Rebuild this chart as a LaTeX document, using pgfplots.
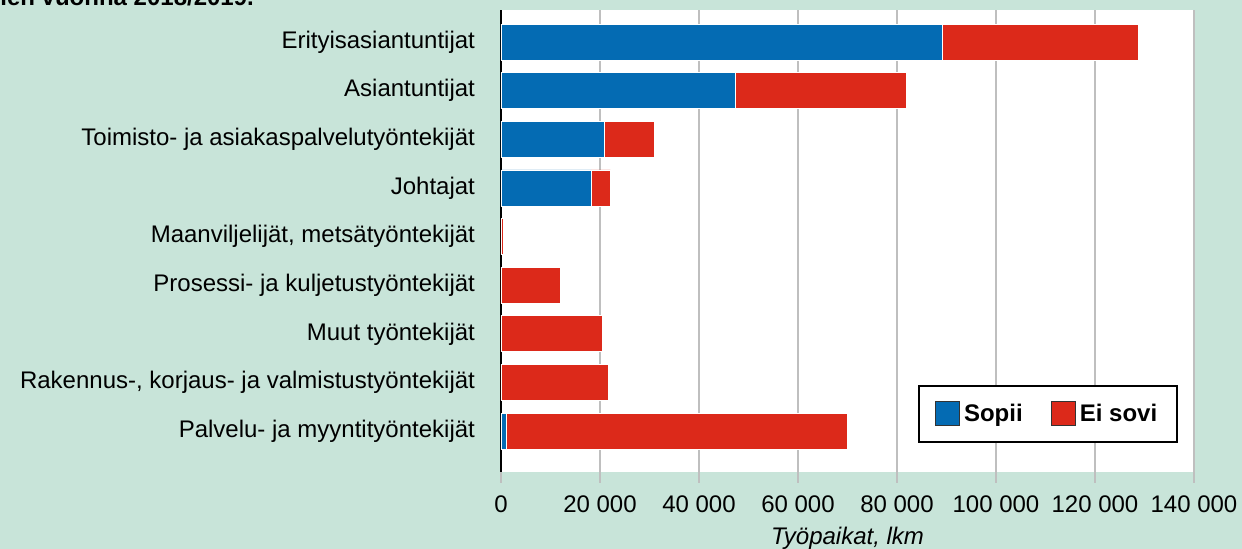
\documentclass[border=0pt]{standalone}
\usepackage{pgfplots}
\pgfplotsset{compat=1.18}
\usepackage{fontspec}
\setmainfont{Liberation Sans}
\definecolor{bgc}{RGB}{200,228,217}
\definecolor{sopii}{RGB}{4,107,179}
\definecolor{eisovi}{RGB}{220,41,26}
\begin{document}
\begin{tikzpicture}
% background of the whole figure (px -> 0.5pt, origin at plot bottom-left)
\fill[bgc] (-250.5pt,-38.5pt) rectangle (370.5pt,236pt);
\node[anchor=base west, font=\bfseries\fontsize{12}{14}\selectfont, inner sep=0pt]
  at (-250.5pt,233pt) {ien vuonna 2018/2019.};
\begin{axis}[
    xbar stacked,
    scale only axis,
    width=346.5pt, height=231pt,
    font=\fontsize{12}{14}\selectfont,
    /pgf/number format/assume math mode=true,
    axis background/.style={fill=white},
    bar width=18pt,
    y dir=reverse,
    xmin=0, xmax=140000,
    ymin=-0.66, ymax=8.84,
    xtick={20000,40000,60000,80000,100000,120000,140000},
    xticklabels={20 000,40 000,60 000,80 000,100 000,120 000,140 000},
    extra x ticks={0},
    extra x tick labels={0},
    extra x tick style={major tick style={black, line width=1pt}, major grid style={black, line width=1pt}},
    xticklabel style={yshift=-3pt},
    scaled x ticks=false,
    xmajorgrids,
    major grid style={draw=black!25, line width=0.6pt},
    major tick length=5.5pt,
    tick align=outside,
    x tick style={draw=black!25, line width=0.6pt},
    y tick style={draw=none},
    axis x line*=bottom,
    axis y line*=left,
    x axis line style={draw=none},
    y axis line style={black, line width=1pt},
    ytick={0,1,2,3,4,5,6,7,8},
    yticklabels={
      Erityisasiantuntijat,
      Asiantuntijat,
      Toimisto- ja asiakaspalvelutyöntekijät,
      Johtajat,
      {Maanviljelijät, metsätyöntekijät},
      Prosessi- ja kuljetustyöntekijät,
      Muut työntekijät,
      {Rakennus-, korjaus- ja valmistustyöntekijät},
      Palvelu- ja myyntityöntekijät},
    yticklabel style={xshift=-4pt},
    xlabel={\itshape Työpaikat, lkm},
    xlabel style={at={(axis description cs:0.5,0)}, anchor=center, yshift=-33pt},
    legend style={
      draw=black, line width=0.8pt, fill=white,
      at={(0.977,0.063)}, anchor=south east,
      legend columns=2,
      font=\bfseries\fontsize{12}{14}\selectfont,
      /tikz/every even column/.append style={column sep=12pt},
      inner xsep=8pt, inner ysep=7pt,
      legend cell align=left},
  ]
  % Sopii
  \addplot[fill=sopii, draw=white, line width=0.4pt,
    legend image code/.code={\draw[fill=sopii, draw=black!80, line width=0.6pt] (0pt,-6pt) rectangle (12pt,6pt);}]
    coordinates {
      (89200,0) (47300,1) (20900,2) (18200,3) (0,4)
      (0,5) (0,6) (0,7) (1100,8)};
  % Ei sovi
  \addplot[fill=eisovi, draw=white, line width=0.4pt,
    legend image code/.code={\draw[fill=eisovi, draw=black!80, line width=0.6pt] (0pt,-6pt) rectangle (12pt,6pt);}]
    coordinates {
      (39500,0) (34500,1) (10000,2) (3900,3) (500,4)
      (12100,5) (20500,6) (21600,7) (68800,8)};
  \legend{Sopii, Ei sovi}
\end{axis}
\pgfresetboundingbox
\useasboundingbox (-250.5pt,-38.5pt) rectangle (370.5pt,236pt);
\end{tikzpicture}
\end{document}
